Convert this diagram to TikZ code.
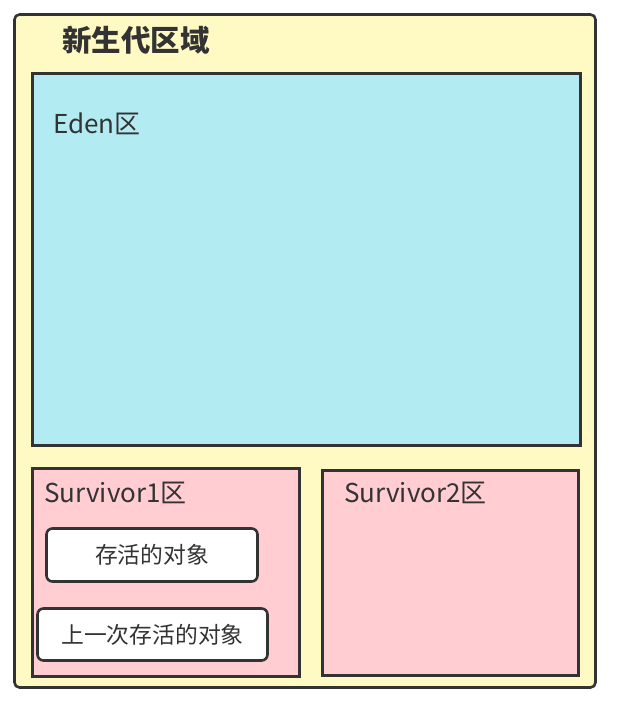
\documentclass[tikz,border=0pt]{standalone}
\usepackage{fontspec}
\setmainfont{Noto Sans CJK SC}
\usepackage{tikz}
\definecolor{younggen}{HTML}{FFF9C4}
\definecolor{edenfill}{HTML}{B2EBF2}
\definecolor{survfill}{HTML}{FFCDD2}
\definecolor{edgegray}{HTML}{333333}

\begin{document}
\begin{tikzpicture}[x=1pt, y=-1pt,
        region/.style={draw=edgegray, line width=2.6pt, inner sep=0pt},
        objbox/.style={region, fill=white, rounded corners=6pt, text=edgegray,
                font=\fontsize{22.8}{26}\selectfont},
        caption/.style={anchor=west, inner sep=0pt, text=edgegray,
                font=\fontsize{26}{30}\selectfont}]
        \useasboundingbox (0,0) rectangle (621,707);
        \node (young) [region, fill=younggen, rounded corners=5pt, minimum width=581pt, minimum height=673pt] at (305, 351) {};
        \node (eden) [region, fill=edenfill, minimum width=548pt, minimum height=372pt] at (306.5, 259.5) {};
        \node (surv1) [region, fill=survfill, minimum width=267pt, minimum height=208pt] at (166, 572.5) {};
        \node (surv2) [region, fill=survfill, minimum width=256pt, minimum height=205pt] at (450.5, 573) {};
        \node (obj) [objbox, minimum width=211pt, minimum height=53pt] at (152, 555) {存活的对象};
        \node (lastobj) [objbox, minimum width=230pt, minimum height=52pt] at (152.5, 634.5) {上一次存活的对象};
        \node (youngtext) [caption, font=\fontsize{29.5}{34}\selectfont\bfseries] at (62, 40) {新生代区域};
        \node (edentext) [caption] at (53, 124) {Eden区};
        \node (surv1text) [caption] at (44, 493) {Survivor1区};
        \node (surv2text) [caption] at (344, 493) {Survivor2区};
\end{tikzpicture}
\end{document}
